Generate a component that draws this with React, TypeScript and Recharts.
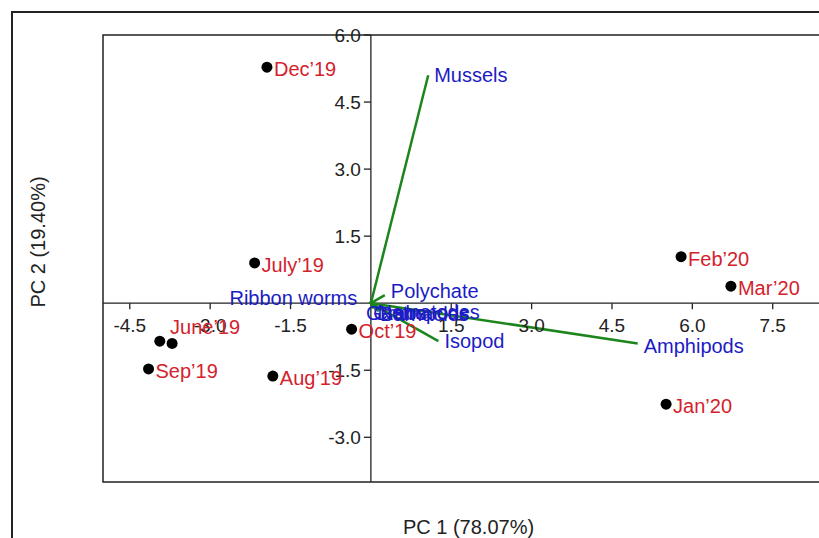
import React from 'react';
import {
  ScatterChart, Scatter, XAxis, YAxis, ReferenceLine, ReferenceArea, ReferenceDot,
} from 'recharts';

// sample scores (PC1, PC2)
const months = ['June’19', 'Nov’19', 'July’19', 'Aug’19', 'Sep’19', 'Oct’19', 'Dec’19', 'Jan’20', 'Feb’20', 'Mar’20'];
const pc1Scores = [-3.71, -3.94, -2.17, -1.83, -4.15, -0.36, -1.94, 5.51, 5.79, 6.72];
const pc2Scores = [-0.9, -0.85, 0.9, -1.63, -1.47, -0.58, 5.28, -2.26, 1.04, 0.38];

// species loadings
const species = ['Mussels', 'Amphipods', 'Isopod', 'Polychate', 'Ribbon worms', 'Gastropods', 'Crabs', 'Barnacles', 'Nematodes'];
const pc1Loadings = [1.07, 4.98, 1.26, 0.26, -0.03, 0.04, 0.1, 0.15, 0.2];
const pc2Loadings = [5.1, -0.9, -0.85, 0.18, 0.03, -0.12, -0.15, -0.18, -0.15];

const xTicks = [-4.5, -3.0, -1.5, 1.5, 3.0, 4.5, 6.0, 7.5];
const yTicks = [6.0, 4.5, 3.0, 1.5, -1.5, -3.0];

const X_DOMAIN: [number, number] = [-5, 8.7];
const Y_DOMAIN: [number, number] = [-4, 6];

const FONT = 'Liberation Sans, Arial, sans-serif';
const RED = '#d3222c';
const BLUE = '#1c1cc4';
const GREEN = '#1c861c';
const INK = '#222';

// label nudges in pixels
const scoreNudge: Record<string, { dx: number; dy: number }> = {
  'June’19': { dx: -2, dy: -16 },
};
const hiddenLabels = new Set(['Nov’19']);

const speciesNudge: Record<string, { dx: number; dy: number; anchor?: string }> = {
  'Amphipods': { dx: 6, dy: 3 },
  'Polychate': { dx: 6, dy: -4 },
  'Ribbon worms': { dx: -12, dy: -4, anchor: 'end' },
  'Gastropods': { dx: -7, dy: 4 },
  'Crabs': { dx: -3, dy: 3 },
  'Barnacles': { dx: 1, dy: 3 },
  'Nematodes': { dx: -4, dy: 2 },
};

const scores = months.map((m, i) => ({ name: m, x: pc1Scores[i], y: pc2Scores[i] }));
const loadings = species.map((s, i) => ({ name: s, x: pc1Loadings[i], y: pc2Loadings[i] }));

const ScoreShape = (props: any) => {
  const { cx, cy, payload } = props;
  const n = scoreNudge[payload.name] || { dx: 7, dy: 2 };
  return (
    <g>
      <circle cx={cx} cy={cy} r={5.5} fill="#000" />
      {!hiddenLabels.has(payload.name) && (
        <text x={cx + n.dx} y={cy + n.dy} fill={RED} fontSize={20} fontFamily={FONT} dominantBaseline="central">
          {payload.name}
        </text>
      )}
    </g>
  );
};

const LoadingLabel = (props: any) => {
  const { cx, cy, payload } = props;
  const n = speciesNudge[payload.name] || { dx: 6, dy: 0 };
  return (
    <text x={cx + n.dx} y={cy + n.dy} fill={BLUE} fontSize={20} fontFamily={FONT}
      textAnchor={n.anchor || 'start'} dominantBaseline="central">
      {payload.name}
    </text>
  );
};

const XTick = (props: any) => {
  const { cx, cy, value } = props;
  return (
    <g>
      <line x1={cx} y1={cy} x2={cx} y2={cy + 6} stroke={INK} strokeWidth={1.3} />
      <text x={cx} y={cy + 22} textAnchor="middle" dominantBaseline="central" fontSize={19} fontFamily={FONT} fill={INK}>
        {value.toFixed(1)}
      </text>
    </g>
  );
};

const YTick = (props: any) => {
  const { cx, cy, value } = props;
  return (
    <g>
      <line x1={cx - 7} y1={cy} x2={cx} y2={cy} stroke={INK} strokeWidth={1.3} />
      <text x={cx - 10} y={cy} textAnchor="end" dominantBaseline="central" fontSize={19} fontFamily={FONT} fill={INK}>
        {value.toFixed(1)}
      </text>
    </g>
  );
};

export default function App() {
  return (
    <div style={{ position: 'absolute', left: 0, top: 0, width: 819, height: 538, overflow: 'hidden', background: '#fff' }}>
      <div style={{ position: 'absolute', left: 11, top: 11, width: 900, height: 600, border: `2px solid ${INK}` }} />
      <div style={{ position: 'absolute', left: 0, top: 0 }}>
        <ScatterChart width={900} height={538} margin={{ top: 35, left: 103, right: 63, bottom: 56 }}>
          <XAxis type="number" dataKey="x" domain={X_DOMAIN} allowDataOverflow hide height={0} />
          <YAxis type="number" dataKey="y" domain={Y_DOMAIN} allowDataOverflow hide width={0} />
          <ReferenceArea x1={X_DOMAIN[0]} x2={X_DOMAIN[1]} y1={Y_DOMAIN[0]} y2={Y_DOMAIN[1]}
            fill="none" stroke={INK} strokeWidth={1.5} fillOpacity={0} ifOverflow="visible" />
          <ReferenceLine x={0} stroke={INK} strokeWidth={1.3} />
          <ReferenceLine y={0} stroke={INK} strokeWidth={1.3} />
          {xTicks.map(t => (
            <ReferenceDot key={`xt${t}`} x={t} y={0} shape={(p: any) => <XTick {...p} value={t} />} />
          ))}
          {yTicks.map(t => (
            <ReferenceDot key={`yt${t}`} x={0} y={t} shape={(p: any) => <YTick {...p} value={t} />} />
          ))}
          {loadings.map(l => (
            <ReferenceLine key={`v${l.name}`} segment={[{ x: 0, y: 0 }, { x: l.x, y: l.y }]}
              stroke={GREEN} strokeWidth={2.5} />
          ))}
          <Scatter data={loadings} shape={LoadingLabel} isAnimationActive={false} />
          <Scatter data={scores} shape={ScoreShape} isAnimationActive={false} />
        </ScatterChart>
      </div>
      <div style={{ position: 'absolute', left: 0, top: 516, width: 937, textAlign: 'center', fontFamily: FONT, fontSize: 20, color: INK }}>
        PC 1 (78.07%)
      </div>
      <div style={{
        position: 'absolute', left: 38, top: 242, transform: 'translate(-50%, -50%) rotate(-90deg)',
        whiteSpace: 'nowrap', fontFamily: FONT, fontSize: 20, color: INK,
      }}>
        PC 2 (19.40%)
      </div>
    </div>
  );
}
